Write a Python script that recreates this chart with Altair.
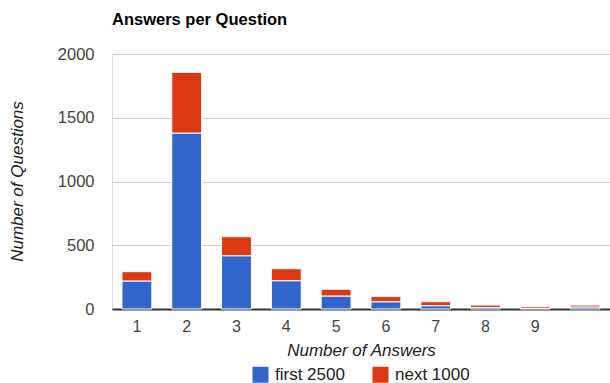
import altair as alt
import pandas as pd

categories = ["1", "2", "3", "4", "5", "6", "7", "8", "9", "10"]
first_2500 = [220, 1380, 418, 222, 102, 57, 26, 12, 7, 16]
next_1000 = [73, 476, 149, 94, 53, 42, 31, 19, 14, 15]
series_names = ["first 2500", "next 1000"]
y_ticks = [0, 500, 1000, 1500, 2000]

rows = []
for c, a, b in zip(categories, first_2500, next_1000):
    rows.append({"answers": c, "series": series_names[0], "count": a, "ord": 0})
    rows.append({"answers": c, "series": series_names[1], "count": b, "ord": 1})
df = pd.DataFrame(rows)

FONT = "Arial, Liberation Sans, sans-serif"

chart = alt.Chart(df).mark_bar(stroke="white", strokeWidth=1).encode(
    x=alt.X(
        "answers:N",
        sort=categories,
        scale=alt.Scale(paddingInner=0.4, paddingOuter=0.2),
        axis=alt.Axis(
            title="Number of Answers",
            labelAngle=0,
            labelExpr="datum.value == '10' ? '' : datum.label",
            ticks=False,
            domainColor="#333333",
            domainWidth=2,
            labelPadding=9,
            labelFontSize=16,
            labelColor="#444444",
            labelFont=FONT,
            titleFont=FONT,
            titleFontSize=17,
            titleFontStyle="italic",
            titleFontWeight="normal",
            titleColor="#222222",
            titlePadding=8,
        ),
    ),
    y=alt.Y(
        "count:Q",
        stack="zero",
        scale=alt.Scale(domain=[0, 2000], nice=False),
        axis=alt.Axis(
            title="Number of Questions",
            values=y_ticks,
            format="d",
            domain=False,
            ticks=False,
            gridColor="#cccccc",
            gridWidth=1,
            labelPadding=18,
            labelFontSize=16.5,
            labelColor="#444444",
            labelFont=FONT,
            titleFont=FONT,
            titleFontSize=17,
            titleFontStyle="italic",
            titleFontWeight="normal",
            titleColor="#222222",
            titleX=-95,
            titleY=127,
            titleAngle=-90,
            titleBaseline="middle",
            titleAlign="center",
        ),
    ),
    color=alt.Color(
        "series:N",
        scale=alt.Scale(domain=series_names, range=["#3366cc", "#dc3912"]),
        legend=alt.Legend(
            title=None,
            orient="none",
            legendX=140,
            legendY=312,
            direction="horizontal",
            symbolType="square",
            symbolSize=256,
            symbolStrokeWidth=0,
            symbolOpacity=1,
            labelFontSize=17,
            labelFont=FONT,
            labelColor="#222222",
            labelOffset=6,
            columnPadding=27,
        ),
    ),
    order=alt.Order("ord:Q", sort="ascending"),
).properties(
    width=498,
    height=255,
    title=alt.TitleParams(
        "Answers per Question",
        anchor="start",
        font=FONT,
        fontSize=16.5,
        fontWeight="bold",
        color="#000000",
        frame="group",
        offset=18,
    ),
    autosize=alt.AutoSizeParams(type="none"),
    padding={"left": 112, "top": 54, "right": 0, "bottom": 74},
).configure_view(stroke=None).configure(background="white")

chart.save("out.html", embed_options={"renderer": "svg", "actions": False})
